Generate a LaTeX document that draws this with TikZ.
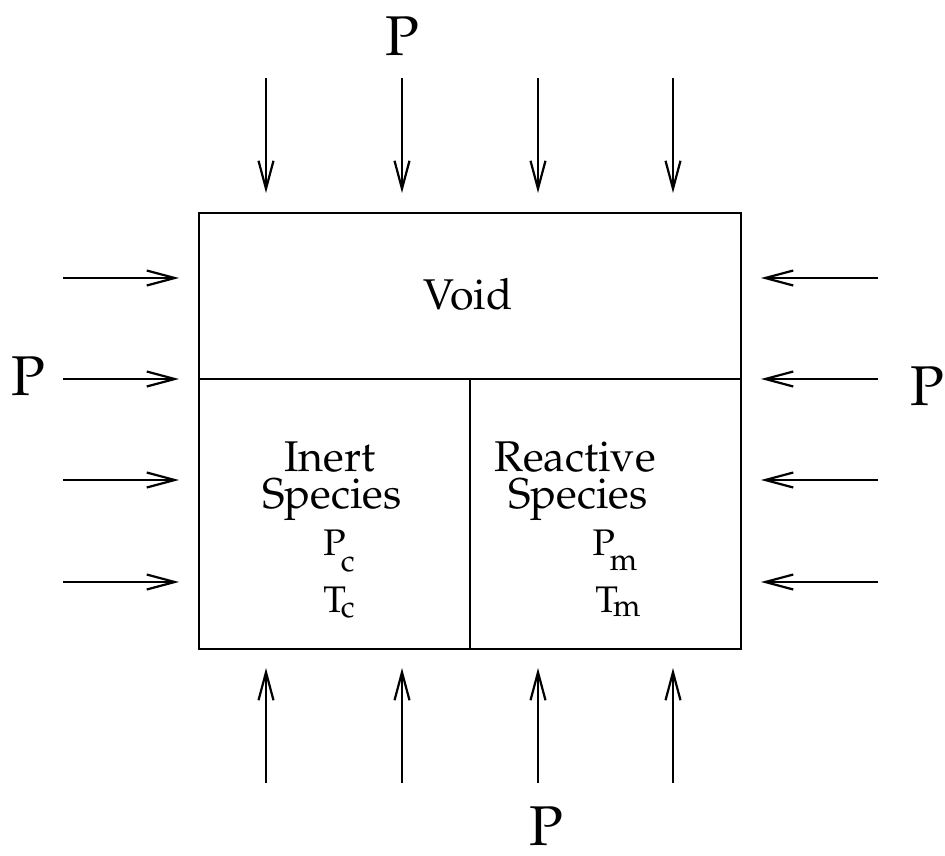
\documentclass[tikz,border=0pt]{standalone}
\usepackage[T1]{fontenc}
\usepackage{mathpazo}
\usetikzlibrary{arrows.meta}
\tikzset{
  cell/.style={draw, line width=1.8pt, inner sep=0pt},
  push/.style={line width=1.7pt, -{Straight Barb[length=28pt,width=15pt,line width=2.2pt]}},
  big/.style={font=\fontsize{56}{60}\selectfont, inner sep=0pt, anchor=base},
  word/.style={font=\fontsize{43}{46}\selectfont, inner sep=0pt, anchor=base},
  sym/.style={font=\fontsize{37}{40}\selectfont, inner sep=0pt, anchor=base},
}
% upright symbol with a lowered subscript: #1 letter, #2 subscript, #3 drop
\newcommand{\qtysub}[3]{#1\kern-5pt\raisebox{-#3}{\fontsize{31}{34}\selectfont #2}}
\begin{document}
\begin{tikzpicture}[x=1pt,y=-1pt]
\useasboundingbox (0,0) rectangle (945,855);

% the three chambers
\node[cell, minimum width=542pt, minimum height=166pt] (void) at (470,296) {};
\node[cell, minimum width=271pt, minimum height=270pt] (inert) at (334.5,514) {};
\node[cell, minimum width=271pt, minimum height=270pt] (react) at (605.5,514) {};

% chamber labels
\node[word] (tvoid) at (468,309) {Void};
\node[word] (tin1) at (330,471) {Inert};
\node[word] (tin2) at (332,508) {Species};
\node[sym] (tpc) at (339,555) {\qtysub{P}{c}{16pt}};
\node[sym] (ttc) at (339,612) {\qtysub{T}{c}{5pt}};
\node[word] (tre1) at (575,471) {Reactive};
\node[word] (tre2) at (578,508) {Species};
\node[sym] (tpm) at (615,555) {\qtysub{P}{m}{15pt}};
\node[sym] (ttm) at (618,612) {\qtysub{T}{m}{4pt}};

% external pressure labels
\node[big] (ptop) at (402,55) {P};
\node[big] (pbot) at (546,845) {P};
\node[big] (pleft) at (28,395) {P};
\node[big] (pright) at (927,405) {P};

% pressure arrows from above and below
\foreach \i/\x in {1/266,2/402,3/538,4/673}{
  \coordinate (ta\i) at (\x,78);
  \coordinate (tb\i) at (\x,193);
  \coordinate (ba\i) at (\x,783);
  \coordinate (bb\i) at (\x,668);
  \draw[push] (ta\i) -- (tb\i);
  \draw[push] (ba\i) -- (bb\i);
}
% pressure arrows from the sides
\foreach \i/\y in {1/278,2/379,3/480,4/582}{
  \coordinate (la\i) at (63,\y);
  \coordinate (lb\i) at (179,\y);
  \coordinate (ra\i) at (878,\y);
  \coordinate (rb\i) at (761,\y);
  \draw[push] (la\i) -- (lb\i);
  \draw[push] (ra\i) -- (rb\i);
}
\end{tikzpicture}
\end{document}
